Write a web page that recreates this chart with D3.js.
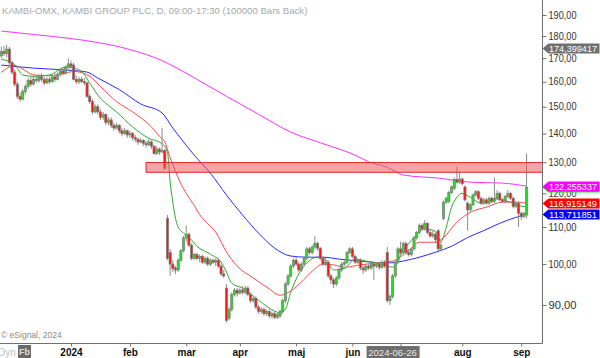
<!DOCTYPE html>
<html><head><meta charset="utf-8">
<script src="https://cdn.jsdelivr.net/npm/d3@7"></script>
<style>body{margin:0;background:#fff;} svg{display:block;font-family:"Liberation Sans",Arial,sans-serif;}</style>
</head><body><svg id="c" width="600" height="358"></svg>
<script>
// ---- data (daily bars, index 0 = late Nov 2023, last = 2024-09-04) ----
const opens=[171,173,172,174,168,164,159,154,153,156,
158,160.5,159,161,160.5,162,161,159.5,161,160,
162,161,163,164.5,163.5,166,167.5,167,161,160,
161,160,159.5,154,152,148,150,148,146,147,
144,145,143,142,143,141,140,141,139.5,140,
138.5,138,137,137.5,136.5,136,137,135.5,133,134.5,
133.5,134,112.5,103,100,99,98.5,101,103.5,107,
108,105,101.5,102.5,101.5,102,100.5,101.5,100,101,
100.5,101,99.5,97.5,94,87,89,92.5,93.5,92.8,
93.5,93,94,92.5,91,91.5,89.5,88.5,89,88,
88.5,87.5,88,87.2,87.5,88.5,91,95,97,99.5,
101,100,98.5,100,101.5,104,103,104.5,105.5,104.2,
101.5,100,100.5,97,96,95,96.5,98.5,100,100.5,
103,104,102,100.5,101,99,98.5,99.5,99,100,
99.5,100,99.2,100.5,103,91,92,97,100.5,104,
103,105.5,103,102.5,104,107,108.5,110.5,109.5,111,
108.5,107.5,108,109,104,112.5,117.3,117.5,120.3,121.5,
124.4,123.5,124.5,122,117,115,116.5,119.5,120.5,118.5,
117,118,117,118.5,117.5,118.5,120,118,117.5,119,
120,118.5,116,117,114,113,113.5];
const highs=[175,175.5,176,175,169,165,160,155.5,157,159,
161.5,162,162,162.5,163,163.5,162,162,162,163,
163.5,164,165.5,166,167,170,169,168,162.5,162,
162,161.5,160,155,153,151,151,149,148,147.5,
146,146,144,144,143.5,142,142,141.5,141,140.5,
139.5,138.5,138.5,138,137.5,138,137.5,136,135.5,135,
142,134.5,113.5,104,101,99.5,101.5,104,107.5,110.5,
108.5,105.5,103,103,102.5,102.5,102,102,101.5,101.5,
101.5,101.5,100,98.5,95,89.5,93,94,94,94,
94.5,94.5,94.5,93,92,92,90,89.5,89.5,89,
89,88.5,88.5,88.3,89,91.5,95.5,97.5,100,101.5,
102,100.5,100.5,102,104.5,104.5,105,107.5,106,104.5,
102,101.5,101,97.5,96.5,97,99,100.5,101,103.5,
104.5,104.5,102.5,101.5,101.5,99.5,100,100,100.5,100.5,
100.5,100.5,101,101,104.5,92.5,97.5,101,104.5,106,
106,106,104,104.5,107.5,109,111,111,112,111.5,
109.5,109,108.5,109.5,106,117.8,119,120.8,122.5,125,
128.5,127,125,122.5,117.5,117,120,121,121,119,
118.5,118.5,119,119,125,121,120.5,118.5,119.5,121,
120.5,119,117.5,117.5,114.5,114.5,133];
const lows=[170,171,170.5,167,163,158,153,152,152.5,155,
157,158,158.5,159.5,159.5,160,158.5,159,159,159.5,
160,160.5,162,162.5,163,165,165.5,160.5,159,159,
159.5,158.5,153.5,151,147,147.5,147,145,145,143,
143,142,141,141.5,140,139,139.5,138.5,138.5,137.5,
137,136,136.5,135.5,135,135.5,134.5,132.5,132.5,132.5,
133,127.5,101,97,98,97.5,98,100.5,103,106,
104.5,101,101,101,100.5,100,100,99.5,99.5,100,
99.5,99,97,96.5,86,86.5,88.5,92,92,92.5,
92.5,92.5,92,90.5,90.5,89,88,88,87.5,87.5,
87,87,86.8,86.8,87,88,90.5,94.5,96.5,99,
99.5,98,98,99.5,101,102.5,102.5,104,103.5,101,
99.5,99.5,96.5,95,94,94.5,96,98,99.5,100,
102.5,101.5,100,100,98.5,97.5,98,98.5,98.5,96,
99,98.5,98.8,99,90.5,90,91.5,96.5,100,102.5,
102.5,102.5,102,102,103.5,106.5,108,109,109,108,
107,107,105.5,103,103.5,112,116.8,117,119.8,121,
123,123,122.5,117.5,109,114.5,116,119,118,116.5,
116.5,116.5,116.5,117,117,118,117.5,117,117,118.5,
118,115.5,115.5,110,112,112.5,112.5];
const closes=[173,172,174,168,164,159,154,153,156,158,
160.5,159,161,160.5,162,161,159.5,161,160,162,
161,163,164.5,163.5,166,167.5,166.5,161,160,161,
160,159.5,154,152,148,150,148,146,147,144,
145,143,142,143,141,140,141,139.5,140,138.5,
138,137,137.5,136.5,136,137,135.5,133,134.5,133.5,
134,128,101.5,100,98.8,98.5,101,103.5,107,108,
105,101.5,102.5,101.5,102,100.5,101.5,100,101,100.5,
101,99.5,97.5,97,86.5,89,92.5,93.5,92.8,93.5,
93,94,92.5,91,91.5,89.5,88.5,89,88,88.5,
87.5,88,87.2,87.8,88.5,91,95,97,99.5,101,
100,98.5,100,101.5,104,103,104.5,105.5,104.2,101.5,
100,100.5,97,96,95,96.5,98.5,100,100.5,103,
104,102,100.5,101,99,98.5,99.5,99,100,99.5,
100,99.2,100.5,99.5,91,92,97,100.5,104,103,
105.5,103,102.5,104,107,108.5,110.5,109.5,111,108.5,
107.5,108,106.5,104,105,117.3,118.5,120.3,122,124.4,
123.5,124.5,123,118,115,116.5,119.5,120.5,118.5,117,
118,117,118.5,117.5,118.5,120,118,117.5,119,120,
118.5,116,117,114,113,114,121.9];

// moving averages: [bar index, value]
const greenMA=[[0,169.5],[5,167.2],[8,162.8],[12,162.2],[18,162.8],[24,166.2],[27,165.7],[30,164.3],[33,159.4],[37,153.3],[40,150.5],[43,148.0],[49,142.4],[55,138.3],[60,136.4],[62,133.5],[63,123.5],[64,117.3],[65,112.5],[66,110.0],[68,108.3],[70,107.2],[73,104.7],[78,102.6],[82,100.5],[84,98.0],[86,95.2],[90,94.0],[96,91.1],[102,88.6],[104,88.2],[106,89.0],[108,93.0],[110,96.2],[114,100.3],[118,101.8],[121,101.2],[124,98.5],[128,98.9],[132,101.3],[136,100.8],[140,100.3],[144,99.5],[146,99.2],[150,103.5],[154,107.1],[158,109.5],[162,108.8],[164,106.0],[166,109.9],[168,115.8],[170,118.8],[172,120.0],[175,118.8],[179,117.0],[185,118.3],[190,117.3],[194,116.1],[196,115.8]];
const redMA=[[0,163.9],[5,166.8],[8,165.3],[12,162.8],[18,162.5],[24,163.6],[27,164.3],[33,162.2],[37,158.0],[43,152.0],[49,148.0],[56,142.4],[59,139.0],[61,137.0],[63,131.6],[65,127.0],[67,123.0],[69,120.0],[72,116.3],[74,113.6],[77,111.0],[80,108.6],[84,103.2],[88,99.5],[94,96.5],[100,93.8],[104,92.3],[108,93.3],[112,95.5],[116,98.2],[120,100.0],[124,99.8],[128,99.2],[134,99.8],[140,100.3],[146,100.8],[152,103.5],[156,105.8],[162,105.8],[165,107.1],[170,111.4],[175,114.3],[181,115.8],[187,117.3],[193,117.3],[196,116.915149]];
const blueMA=[[0,167.0],[12,165.7],[24,164.9],[32,164.0],[36,161.5],[44,156.8],[52,151.1],[60,147.6],[64,142.0],[68,137.0],[72,132.4],[78,126.4],[84,119.5],[90,113.5],[96,108.3],[102,104.2],[108,102.1],[114,101.8],[120,101.8],[126,101.3],[132,100.9],[138,100.5],[144,100.3],[150,100.8],[156,101.8],[162,103.1],[168,104.7],[174,107.1],[180,109.0],[186,111.1],[192,112.8],[196,113.711851]];
const magentaMA=[[0,182.3],[12,180.7],[24,179.1],[36,177.0],[48,173.8],[60,168.9],[66,165.4],[72,161.6],[84,154.1],[96,147.1],[108,140.5],[120,136.4],[132,132.4],[137,130.2],[144,128.3],[150,125.8],[163,124.8],[175,123.5],[187,123.2],[196,122.255337]];

const yTicks=[90,100,110,120,130,140,150,160,170,180,190];
const monthIdx=[26,48,69,89,110,131,149,172,194];
const monthLabels=["2024","feb","mar","apr","maj","jun","","aug","sep"];
const zone=[126.7,129.9];      // resistance band
const zoneStart=54;           // bar index where band begins
const markIdx=146, markLabel="2024-06-26";
const priceLabels=[
  {v:174.399417,t:"174,399417",c:"#707070"},
  {v:121.9,t:"",c:"#22dd22"},
  {v:122.255337,t:"122,255337",c:"#ff00ff"},
  {v:116.915149,t:"116,915149",c:"#ff0000"},
  {v:113.711851,t:"113,711851",c:"#0000ff"}];
const title="KAMBI-OMX, KAMBI GROUP PLC, D, 09:00-17:30 (100000 Bars Back)";

// ---- drawing ----
const svg=d3.select("#c");
const N=closes.length;
const PR=542.5, PB=343.5;
const x=d3.scaleLinear().domain([0,N-1]).range([1.3,526.6]);
const y=d3.scaleLog().domain([90,190]).range([305,15]);

svg.append("defs").append("clipPath").attr("id","pc").append("rect")
  .attr("x",0).attr("y",0).attr("width",PR).attr("height",PB);
const plot=svg.append("g").attr("clip-path","url(#pc)");

// title
svg.append("text").attr("x",2).attr("y",14).attr("fill","#a8a8a8")
  .style("font-size","9.6px").text(title);

// MA lines
const line=d3.line().x(d=>x(d[0])).y(d=>y(d[1])).curve(d3.curveMonotoneX);
[[magentaMA,"#ff30ff"],[blueMA,"#2a2aff"],[redMA,"#ff4848"],[greenMA,"#2fa82f"]].forEach(([d,c])=>{
  plot.append("path").datum(d).attr("d",line).attr("fill","none").attr("stroke",c).attr("stroke-width",1);
});

// candles
const idx=d3.range(N);
plot.selectAll("line.wick").data(idx).join("line").attr("class","wick")
  .attr("x1",i=>x(i)).attr("x2",i=>x(i))
  .attr("y1",i=>y(highs[i])).attr("y2",i=>y(lows[i]))
  .attr("stroke","#8c8c8c").attr("stroke-width",1);
plot.selectAll("rect.body").data(idx).join("rect").attr("class","body")
  .attr("x",i=>x(i)-1.1).attr("width",2.2)
  .attr("y",i=>y(Math.max(opens[i],closes[i])))
  .attr("height",i=>Math.max(1,Math.abs(y(opens[i])-y(closes[i]))))
  .attr("fill",i=>closes[i]>=opens[i]?"#1ee01e":"#ff1414")
  .attr("stroke","#7c7c7c").attr("stroke-width",0.7);

// resistance band
plot.append("rect").attr("x",x(zoneStart)).attr("width",PR-x(zoneStart))
  .attr("y",y(zone[1])).attr("height",y(zone[0])-y(zone[1]))
  .attr("fill","rgba(240,90,90,0.55)").attr("stroke","#e02828").attr("stroke-width",1);

// frame
svg.append("line").attr("x1",PR).attr("x2",PR).attr("y1",0).attr("y2",PB).attr("stroke","#707070");
svg.append("line").attr("x1",0).attr("x2",PR).attr("y1",PB).attr("y2",PB).attr("stroke","#707070");

// right axis
const ya=svg.append("g").attr("transform",`translate(${PR},0)`)
  .call(d3.axisRight(y).tickValues(yTicks).tickSize(4).tickPadding(2)
    .tickFormat(d=>d.toFixed(2).replace(".",",")));
ya.select(".domain").remove();
ya.selectAll("line").attr("stroke","#707070");
ya.selectAll("text").attr("fill","#333").style("font-size","10px").attr("font-family",null)
  .attr("textLength",28).attr("lengthAdjust","spacingAndGlyphs");

// bottom axis
const xa=svg.append("g").attr("transform",`translate(0,${PB})`)
  .call(d3.axisBottom(x).tickValues(monthIdx).tickSize(3).tickPadding(2)
    .tickFormat((d,i)=>monthLabels[i]));
xa.select(".domain").remove();
xa.selectAll("line").attr("stroke","#707070");
xa.selectAll("text").attr("fill","#111").style("font-size","10px").style("font-weight","bold").attr("font-family",null);

// date marker
const mx=x(markIdx);
svg.append("rect").attr("x",mx-26).attr("y",346).attr("width",53).attr("height",12).attr("fill","#6e6e6e");
svg.append("text").attr("x",mx).attr("y",355.5).attr("text-anchor","middle").attr("fill","#e8e8e8")
  .style("font-size","9.5px").text(markLabel);

// price labels
priceLabels.forEach(p=>{
  const yy=Math.round(y(p.v))+0.5;
  svg.append("path").attr("d",`M${PR},${yy} L${PR+6},${yy-5} L599.5,${yy-5} L599.5,${yy+5} L${PR+6},${yy+5} Z`)
    .attr("fill",p.c);
  if(p.t) svg.append("text").attr("x",PR+6.5).attr("y",yy+3.5).attr("fill","#fff")
    .style("font-size","9.5px").attr("textLength",48).attr("lengthAdjust","spacingAndGlyphs").text(p.t);
});

// footer
svg.append("text").attr("x",1).attr("y",338).attr("fill","#8a8a8a").style("font-size","8.5px").text("\u00a9 eSignal, 2024");
svg.append("text").attr("x",-2).attr("y",356).attr("fill","#c4c4c4").style("font-size","10px").text("Dyn");
svg.append("rect").attr("x",18).attr("y",345).attr("width",13).attr("height",13).attr("fill","#6a6a6a");
svg.append("text").attr("x",24.5).attr("y",355).attr("text-anchor","middle").attr("fill","#ddd")
  .style("font-size","9px").style("font-weight","bold").text("Fb");
</script>
</body></html>
